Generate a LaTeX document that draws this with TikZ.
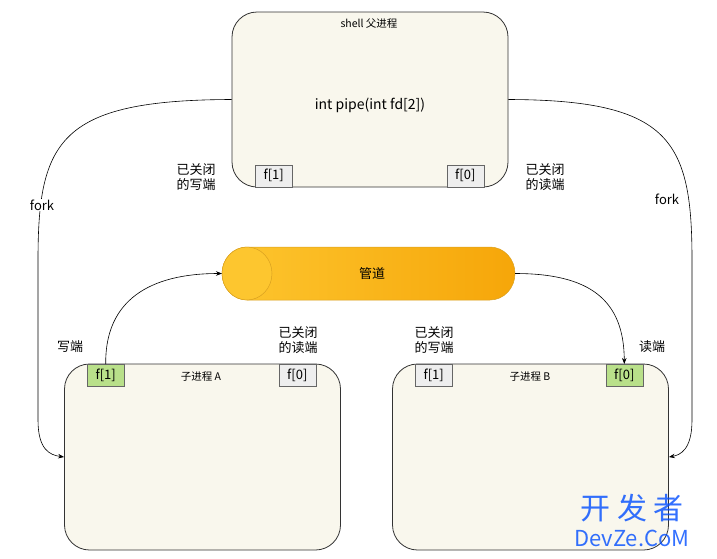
\documentclass[tikz,border=0pt]{standalone}
\usepackage{fontspec}
\setmainfont{Noto Sans CJK SC}
\usetikzlibrary{arrows.meta}
\definecolor{boxfill}{HTML}{F9F7ED}
\definecolor{gfill}{HTML}{B9E08A}
\definecolor{grayf}{HTML}{EEEEEE}
\definecolor{pipeL}{HTML}{FDC62F}
\definecolor{pipeR}{HTML}{F6A609}
\definecolor{pipeD}{HTML}{D9A020}
\begin{document}
\begin{tikzpicture}[x=1pt,y=-1pt,
  proc/.style={draw=black!80,fill=boxfill,rounded corners=25pt,line width=0.8pt,minimum width=276pt,minimum height=186pt,inner sep=0pt},
  top/.style={proc,minimum height=175pt},
  fd/.style={draw=black!60,fill=grayf,minimum width=37pt,minimum height=22pt,inner sep=0pt,font=\fontsize{13}{13}\selectfont},
  fdg/.style={fd,fill=gfill},
  lab/.style={font=\fontsize{13}{15}\selectfont,align=center},
  small/.style={font=\fontsize{10.5}{12}\selectfont},
  arr/.style={-{Stealth[length=6pt]},line width=0.6pt}]
\useasboundingbox (0,0) rectangle (717,558);
\node[top] (shell) at (370,99.5) {};
\node[small] (shellt) at (369,24) {shell 父进程};
\node[font=\fontsize{14}{14}\selectfont] (pipefn) at (370,105) {int pipe(int fd[2])};
\node[fd,anchor=south west] (sf1) at (255,187) {f[1]};
\node[fd,anchor=south east] (sf0) at (484,187) {f[0]};

\node[proc] (A) at (202.5,457) {};
\node[proc] (B) at (530.5,457) {};
\node[fdg,anchor=north west] (af1) at (87,364) {f[1]};
\node[fd,anchor=north east] (af0) at (316,364) {f[0]};
\node[small] (at) at (201,377) {子进程 A};
\node[fd,anchor=north west] (bf1) at (415,364) {f[1]};
\node[fdg,anchor=north east] (bf0) at (643,364) {f[0]};
\node[small] (bt) at (530,377) {子进程 B};

% pipe
\shade[left color=pipeL,right color=pipeR,draw=pipeD,line width=0.5pt]
  (247,247) -- (490,247) arc[start angle=90,end angle=-90,x radius=25pt,y radius=26.5pt] -- (247,300) arc[start angle=270,end angle=90,x radius=25pt,y radius=26.5pt] -- cycle;
\draw[draw=pipeD,line width=0.5pt,fill=pipeL] (247,273.5) ellipse[x radius=25pt,y radius=26.5pt];
\coordinate (pl) at (222,273.5);
\coordinate (pr) at (515,273.5);
\node[lab] (pipet) at (372,274) {管道};

\node[lab] (l1) at (196,177) {已关闭\\的写端};
\node[lab] (l2) at (545,177) {已关闭\\的读端};
\node[lab] (l3) at (70,347) {写端};
\node[lab] (l4) at (298,340) {已关闭\\的读端};
\node[lab] (l5) at (434,340) {已关闭\\的写端};
\node[lab] (l6) at (652,347) {读端};

\draw[arr] (shell.west) .. controls (60,100) and (38,140) .. (38,260) -- (38,420) .. controls (38,450) and (50,455) .. (A.west);
\draw[arr] (shell.east) .. controls (670,100) and (692,140) .. (692,260) -- (692,420) .. controls (692,450) and (680,455) .. (B.east);
\node[fill=white,font=\fontsize{13}{13}\selectfont,inner sep=1pt] (fk1) at (42,205) {fork};
\node[fill=white,font=\fontsize{13}{13}\selectfont,inner sep=1pt] (fk2) at (667,199) {fork};

\draw[arr] (af1.north) .. controls (105,300) and (150,273.5) .. (pl);
\draw[arr] (pr) .. controls (590,273.5) and (624,300) .. (bf0.north);

\node[font=\fontsize{30}{30}\selectfont,text=blue!70!cyan,opacity=0.8] (wm1) at (632,508) {开 发 者};
\node[font=\fontsize{22}{22}\selectfont,text=blue!70!cyan,opacity=0.8] (wm2) at (632,538) {DevZe.CoM};
\end{tikzpicture}
\end{document}
